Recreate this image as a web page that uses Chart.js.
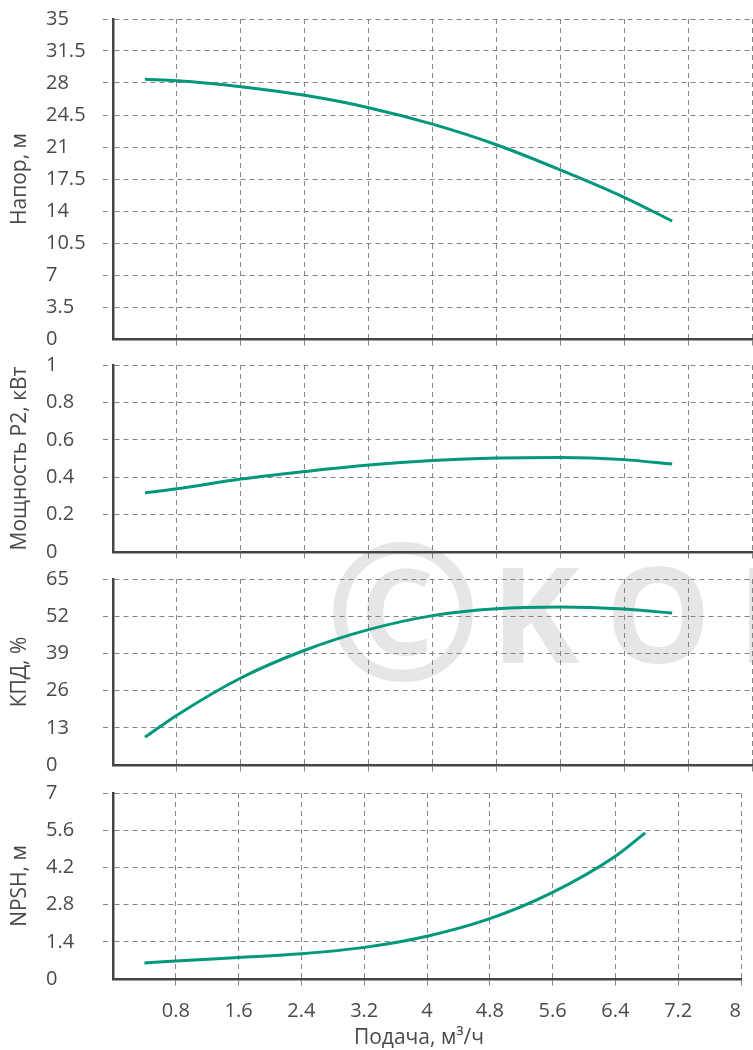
<!DOCTYPE html>
<html lang="ru">
<head>
  <meta charset="UTF-8">
  <title>Характеристики насоса</title>
  <script src="https://cdn.jsdelivr.net/npm/chart.js"></script>
  <style>
    body {
      margin: 0;
      background: #fff;
    }

    .wrap {
      position: relative;
      width: 753px;
      height: 1050px;
      overflow: hidden;
    }

    .wrap canvas {
      position: absolute;
      left: 0;
    }

    /* watermark behind the charts */
    .mark {
      position: absolute;
      color: #e6e6e6;
      font-family: "Open Sans", sans-serif;
      font-weight: 700;
      white-space: nowrap;
    }
  </style>
</head>
<body>
  <div class="wrap">
    <span class="mark" style="left:324px; top:512px; font-size:190px; line-height:190px;">©</span>
    <span class="mark" style="left:491px; top:545px; font-size:133px; line-height:133px; letter-spacing:26px;">KOM</span>
    <canvas id="headChart" width="753" height="352" style="top:0"></canvas>
    <canvas id="powerChart" width="753" height="213" style="top:352px"></canvas>
    <canvas id="effChart" width="753" height="213" style="top:565px"></canvas>
    <canvas id="npshChart" width="753" height="272" style="top:778px"></canvas>
  </div>

  <script>
    // flow, m3/h
    const flow = [0.4, 0.8, 1.6, 2.4, 3.2, 4.0, 4.8, 5.6, 6.4, 7.0];
    const head = [28.4, 28.25, 27.6, 26.65, 25.3, 23.5, 21.25, 18.5, 15.5, 12.9];
    const power = [0.316, 0.338, 0.39, 0.43, 0.465, 0.489, 0.503, 0.506, 0.494, 0.47];
    const efficiency = [9.7, 17.4, 30.4, 40.1, 47.3, 52.2, 54.6, 55.2, 54.5, 53.1];
    const npshFlow = [0.4, 0.8, 1.6, 2.4, 3.2, 4.0, 4.8, 5.6, 6.4, 6.78];
    const npsh = [0.6, 0.68, 0.81, 0.95, 1.19, 1.61, 2.27, 3.26, 4.62, 5.5];

    const xTicks = [0, 0.8, 1.6, 2.4, 3.2, 4, 4.8, 5.6, 6.4, 7.2, 8];
    const headTicks = [0, 3.5, 7, 10.5, 14, 17.5, 21, 24.5, 28, 31.5, 35];
    const powerTicks = [0, 0.2, 0.4, 0.6, 0.8, 1];
    const effTicks = [0, 13, 26, 39, 52, 65];
    const npshTicks = [0, 1.4, 2.8, 4.2, 5.6, 7];

    const lineColor = '#00977a';
    const textColor = '#4a4a4a';
    const gridColor = '#858585';
    const axisColor = '#444';
    const fontFamily = '"Open Sans", sans-serif';
    const tickFont = { family: fontFamily, size: 20, lineHeight: 1 };

    // rotated y titles + the x title, drawn on top of the canvas
    const axisTitles = {
      id: 'axisTitles',
      afterDraw(chart, args, opts) {
        const ctx = chart.ctx;
        const area = chart.chartArea;
        ctx.save();
        ctx.font = '21px ' + fontFamily;
        ctx.fillStyle = textColor;
        ctx.textAlign = 'center';
        ctx.textBaseline = 'middle';
        ctx.save();
        ctx.translate(20, (area.top + area.bottom) / 2);
        ctx.rotate(-Math.PI / 2);
        ctx.fillText(opts.y, 0, 0);
        ctx.restore();
        if (opts.x) {
          ctx.fillText(opts.x, 419, chart.height - 12);
        }
        ctx.restore();
      }
    };

    function gridColorFor(ctx) {
      return ctx.tick && ctx.tick.value === 0 ? 'rgba(0,0,0,0)' : gridColor;
    }

    function makePanel(id, xs, ys, yTicks, yTitle, padTop, last) {
      const points = xs.map((x, i) => ({ x: x, y: ys[i] }));
      const grid = {
        color: gridColorFor,
        lineWidth: 1,
        tickLength: 10,
        tickBorderDash: [5, 4]
      };
      const border = { display: true, color: axisColor, width: 2.5, dash: [5, 4] };

      return new Chart(document.getElementById(id), {
        type: 'line',
        data: {
          datasets: [{
            data: points,
            borderColor: lineColor,
            borderWidth: 3,
            pointRadius: 0,
            cubicInterpolationMode: 'monotone',
            fill: false
          }]
        },
        options: {
          responsive: false,
          animation: false,
          layout: { padding: { top: padTop, left: 46, right: 1, bottom: 0 } },
          plugins: {
            legend: { display: false },
            tooltip: { enabled: false },
            axisTitles: { y: yTitle, x: last ? 'Подача, м³/ч' : '' }
          },
          scales: {
            x: {
              type: 'linear',
              min: 0,
              max: 8,
              afterBuildTicks: s => { s.ticks = xTicks.map(v => ({ value: v })); },
              afterFit: s => { s.height = last ? 71 : 13; },
              grid: grid,
              border: border,
              ticks: {
                display: last,
                autoSkip: false,
                maxRotation: 0,
                align: 'inner',
                padding: 12,
                color: textColor,
                font: tickFont,
                callback: v => (v === 0 ? '' : String(v))
              }
            },
            y: {
              min: yTicks[0],
              max: yTicks[yTicks.length - 1],
              afterBuildTicks: s => { s.ticks = yTicks.map(v => ({ value: v })); },
              afterFit: s => { s.width = 67; },
              grid: grid,
              border: border,
              ticks: {
                crossAlign: 'far',
                padding: 0,
                color: textColor,
                font: tickFont,
                callback: v => String(v)
              }
            }
          }
        },
        plugins: [axisTitles]
      });
    }

    makePanel('headChart', flow, head, headTicks, 'Напор, м', 19, false);
    makePanel('powerChart', flow, power, powerTicks, 'Мощность P2, кВт', 13, false);
    makePanel('effChart', flow, efficiency, effTicks, 'КПД, %', 14, false);
    makePanel('npshChart', npshFlow, npsh, npshTicks, 'NPSH, м', 15, true);
  </script>
</body>
</html>
